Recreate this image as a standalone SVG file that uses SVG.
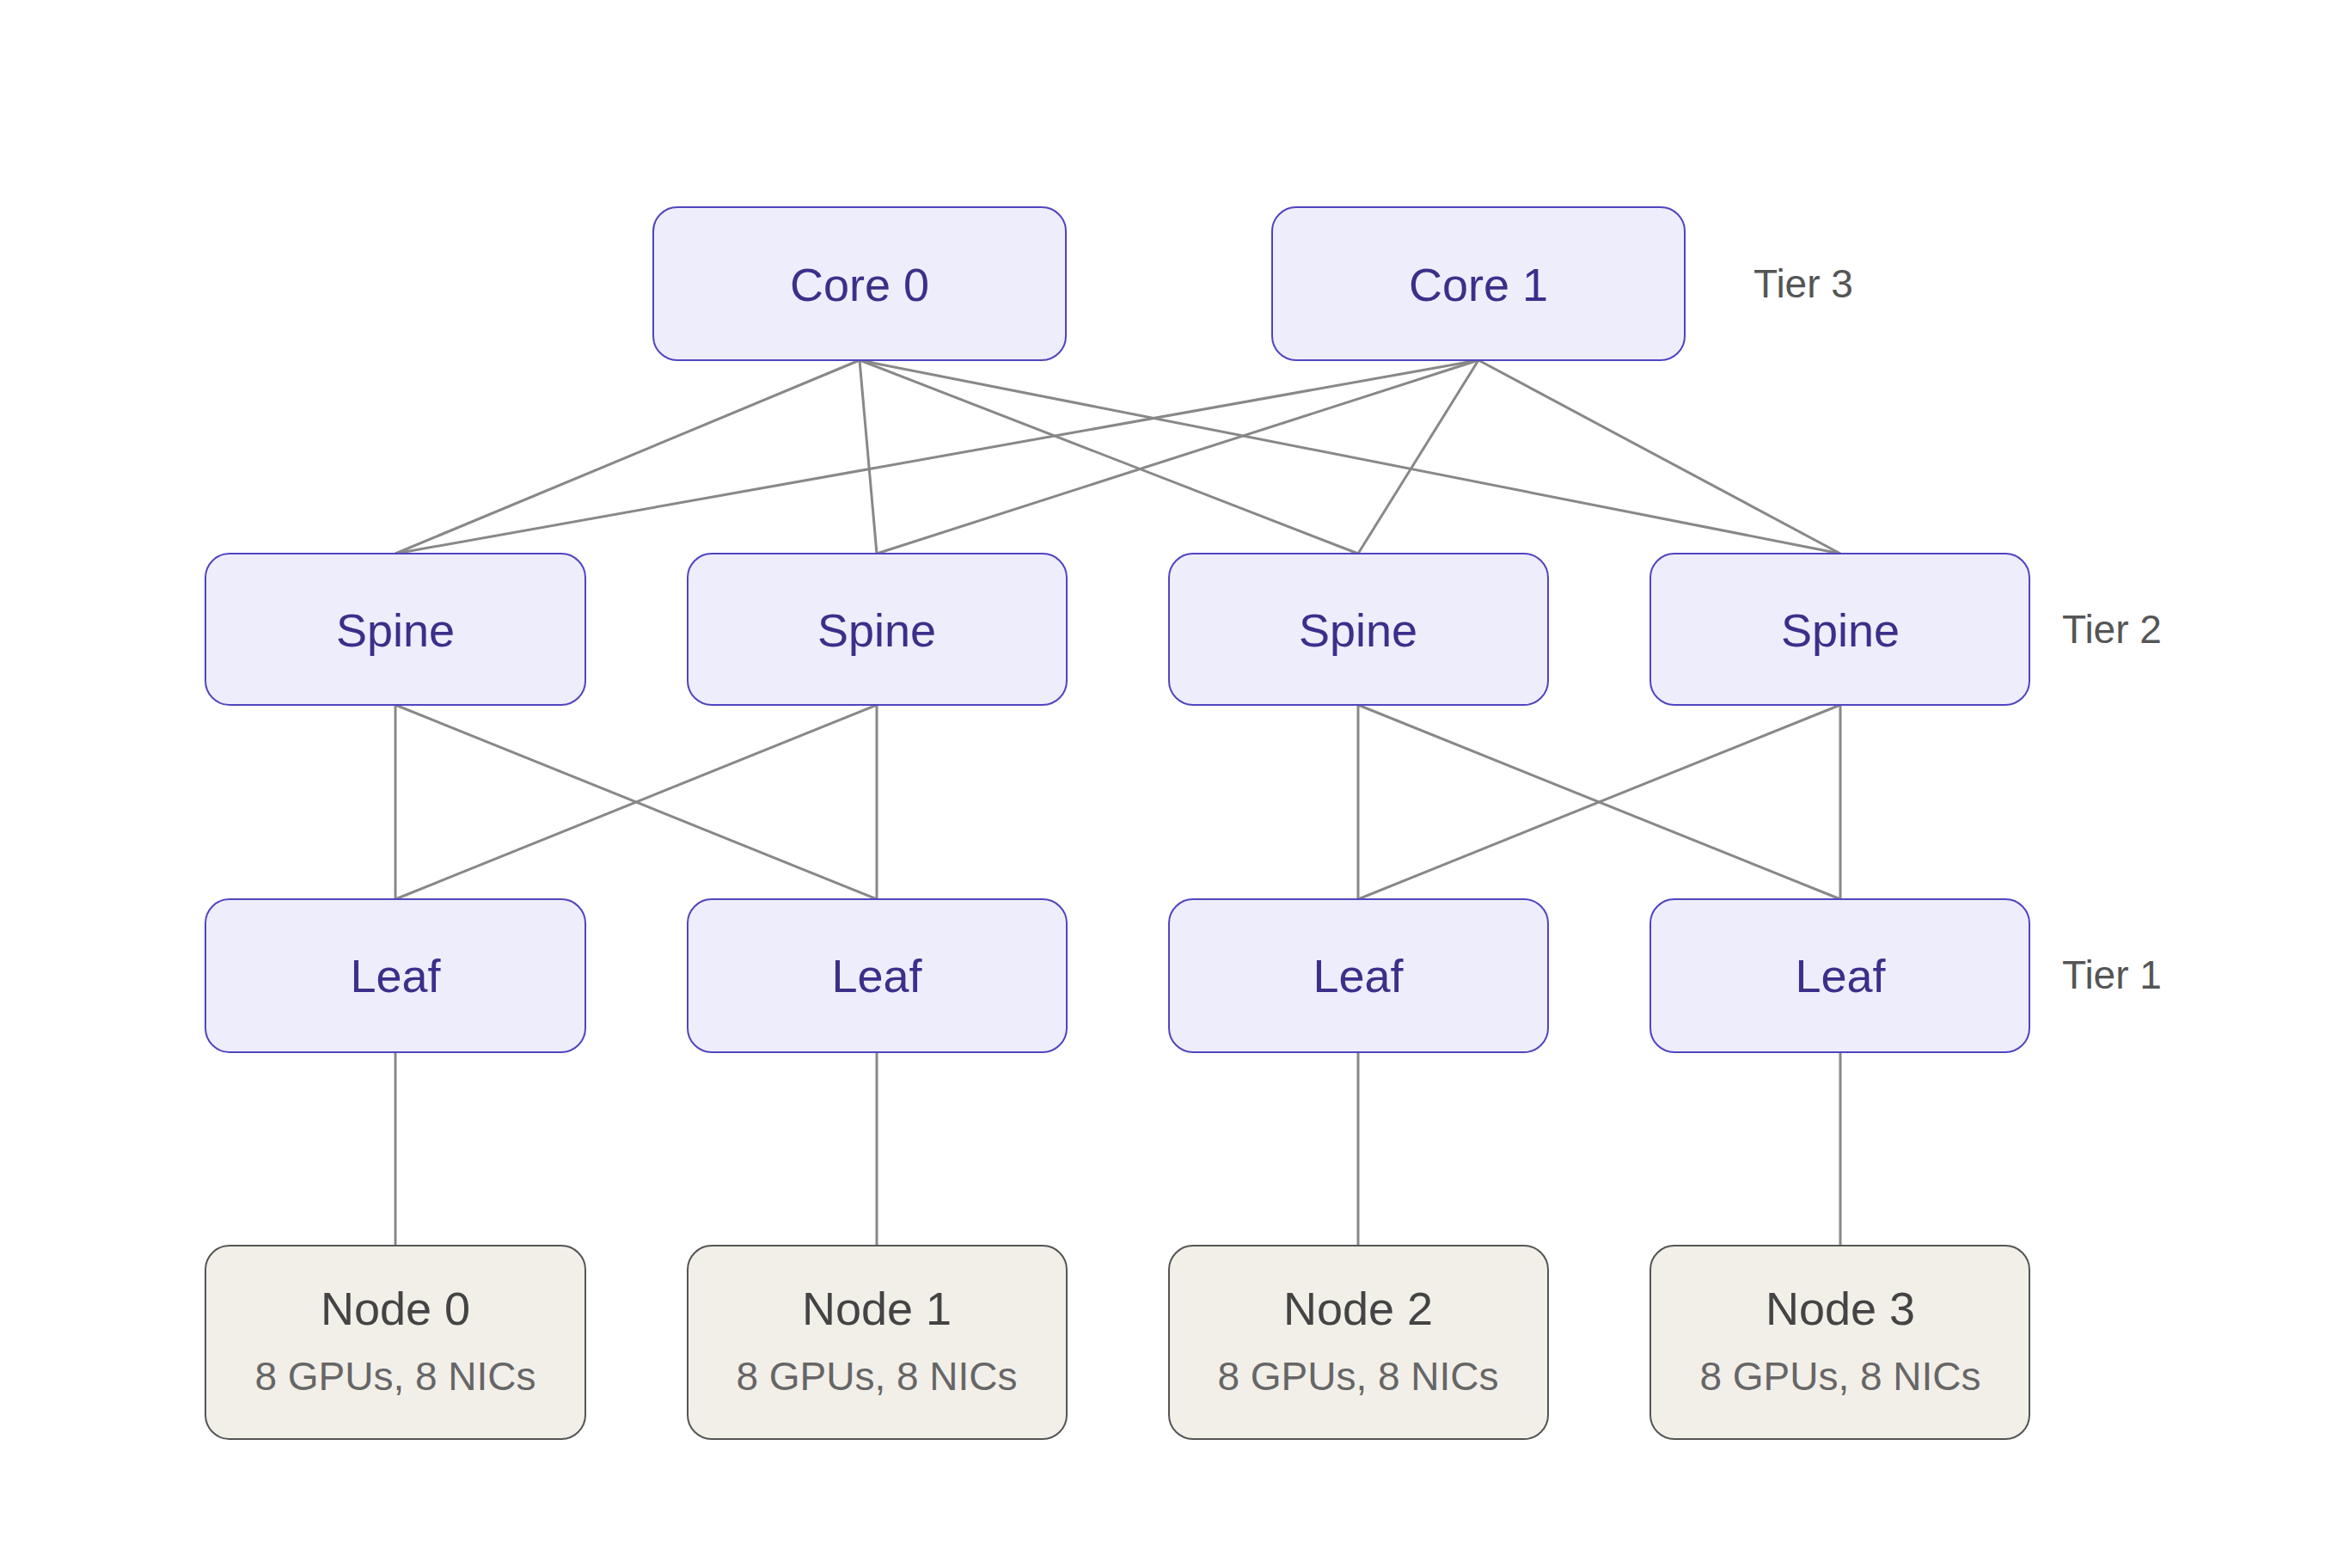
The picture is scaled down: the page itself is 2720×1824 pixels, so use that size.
<svg xmlns="http://www.w3.org/2000/svg" width="2720" height="1824" viewBox="0 0 2720 1824">
<style>
.sw{fill:#eeedfc;stroke:#5045c0;stroke-width:2}
.nd{fill:#f2efe9;stroke:#555;stroke-width:2}
.t{font-family:"Liberation Sans",Arial,sans-serif;text-anchor:middle}
.pt{fill:#3b2f8a;font-size:54px}
.nt{fill:#444;font-size:54px}
.st{fill:#666;font-size:46px}
.tier{font-family:"Liberation Sans",Arial,sans-serif;fill:#555;font-size:46px}
#connectors line{stroke:#888;stroke-width:3}
</style>
<rect width="2720" height="1824" fill="#fff"/>
<g id="connectors">
<line x1="1000" y1="419" x2="460" y2="644"/>
<line x1="1000" y1="419" x2="1020" y2="644"/>
<line x1="1000" y1="419" x2="1580" y2="644"/>
<line x1="1000" y1="419" x2="2141" y2="644"/>
<line x1="1720" y1="419" x2="460" y2="644"/>
<line x1="1720" y1="419" x2="1020" y2="644"/>
<line x1="1720" y1="419" x2="1580" y2="644"/>
<line x1="1720" y1="419" x2="2141" y2="644"/>
<line x1="460" y1="820" x2="460" y2="1046"/>
<line x1="460" y1="820" x2="1020" y2="1046"/>
<line x1="1020" y1="820" x2="460" y2="1046"/>
<line x1="1020" y1="820" x2="1020" y2="1046"/>
<line x1="1580" y1="820" x2="1580" y2="1046"/>
<line x1="1580" y1="820" x2="2141" y2="1046"/>
<line x1="2141" y1="820" x2="1580" y2="1046"/>
<line x1="2141" y1="820" x2="2141" y2="1046"/>
<line x1="460" y1="1224" x2="460" y2="1449"/>
<line x1="1020" y1="1224" x2="1020" y2="1449"/>
<line x1="1580" y1="1224" x2="1580" y2="1449"/>
<line x1="2141" y1="1224" x2="2141" y2="1449"/>
</g>
<g id="core0"><rect class="sw" x="760" y="241" width="480" height="178" rx="28"/><text class="t pt" x="1000" y="350">Core 0</text></g>
<g id="core1"><rect class="sw" x="1480" y="241" width="480" height="178" rx="28"/><text class="t pt" x="1720" y="350">Core 1</text></g>
<g id="spine0"><rect class="sw" x="239" y="644" width="442" height="176" rx="28"/><text class="t pt" x="460" y="752">Spine</text></g>
<g id="spine1"><rect class="sw" x="800" y="644" width="441" height="176" rx="28"/><text class="t pt" x="1020" y="752">Spine</text></g>
<g id="spine2"><rect class="sw" x="1360" y="644" width="441" height="176" rx="28"/><text class="t pt" x="1580" y="752">Spine</text></g>
<g id="spine3"><rect class="sw" x="1920" y="644" width="441" height="176" rx="28"/><text class="t pt" x="2141" y="752">Spine</text></g>
<g id="leaf0"><rect class="sw" x="239" y="1046" width="442" height="178" rx="28"/><text class="t pt" x="460" y="1154">Leaf</text></g>
<g id="leaf1"><rect class="sw" x="800" y="1046" width="441" height="178" rx="28"/><text class="t pt" x="1020" y="1154">Leaf</text></g>
<g id="leaf2"><rect class="sw" x="1360" y="1046" width="441" height="178" rx="28"/><text class="t pt" x="1580" y="1154">Leaf</text></g>
<g id="leaf3"><rect class="sw" x="1920" y="1046" width="441" height="178" rx="28"/><text class="t pt" x="2141" y="1154">Leaf</text></g>
<g id="node0"><rect class="nd" x="239" y="1449" width="442" height="225" rx="28"/><text class="t nt" x="460" y="1541">Node 0</text><text class="t st" x="460" y="1617">8 GPUs, 8 NICs</text></g>
<g id="node1"><rect class="nd" x="800" y="1449" width="441" height="225" rx="28"/><text class="t nt" x="1020" y="1541">Node 1</text><text class="t st" x="1020" y="1617">8 GPUs, 8 NICs</text></g>
<g id="node2"><rect class="nd" x="1360" y="1449" width="441" height="225" rx="28"/><text class="t nt" x="1580" y="1541">Node 2</text><text class="t st" x="1580" y="1617">8 GPUs, 8 NICs</text></g>
<g id="node3"><rect class="nd" x="1920" y="1449" width="441" height="225" rx="28"/><text class="t nt" x="2141" y="1541">Node 3</text><text class="t st" x="2141" y="1617">8 GPUs, 8 NICs</text></g>
<g id="tiers">
<text class="tier" x="2040" y="346">Tier 3</text>
<text class="tier" x="2399" y="748">Tier 2</text>
<text class="tier" x="2399" y="1150">Tier 1</text>
</g>
</svg>
